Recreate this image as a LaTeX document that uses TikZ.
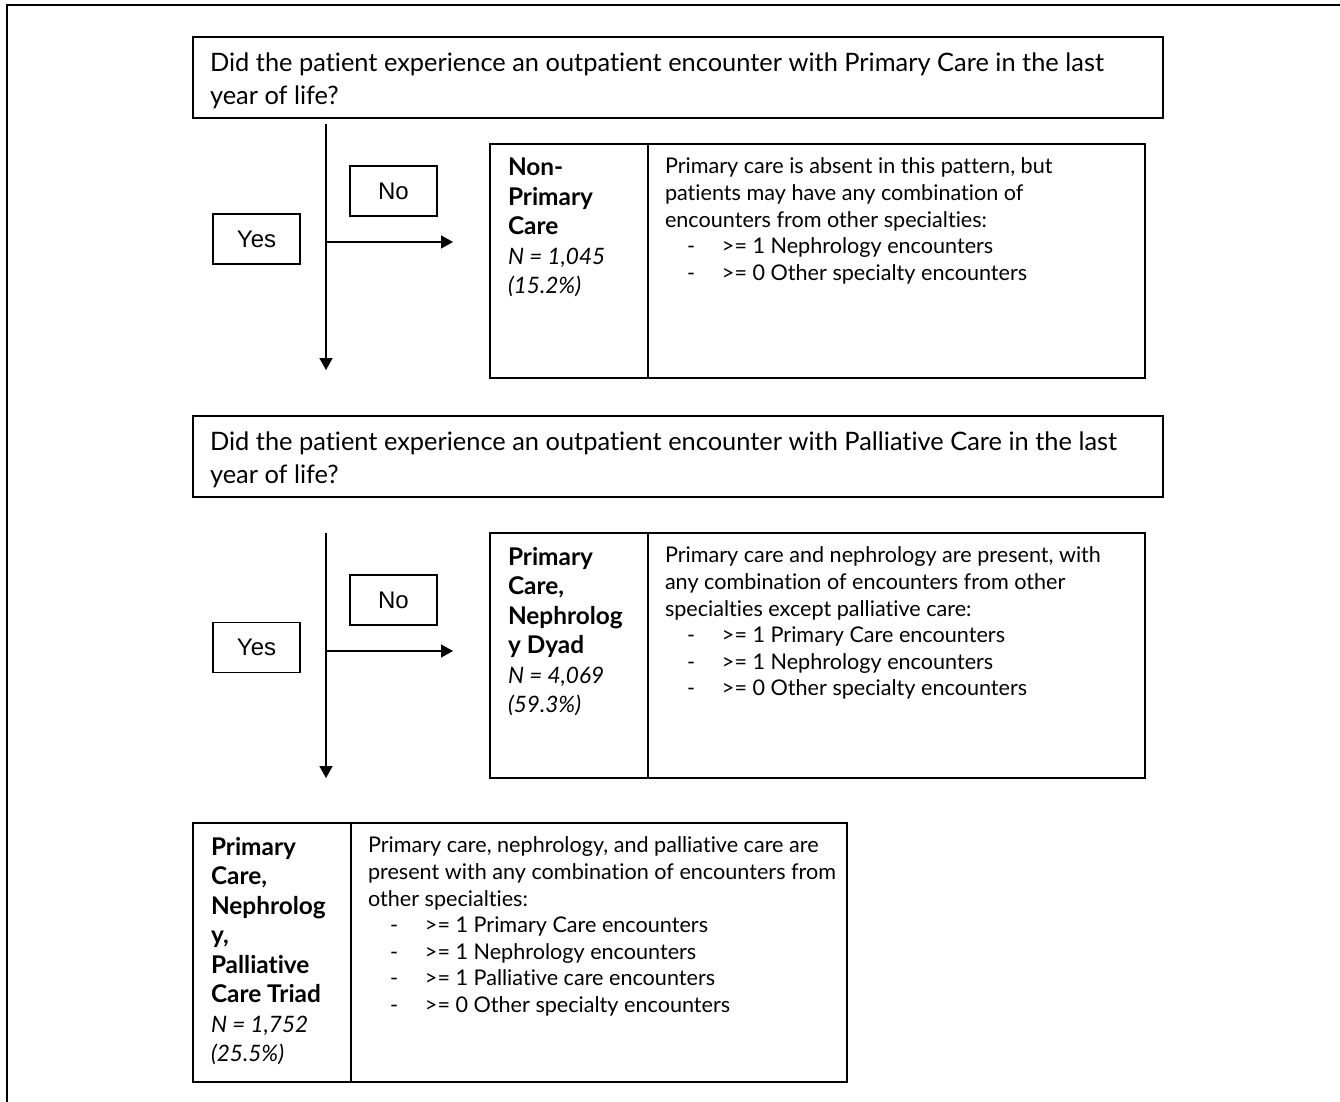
\documentclass[tikz,border=0pt]{standalone}
\usepackage{fontspec}
\setmainfont{Lato}[Ligatures=NoCommon]
\newfontfamily\arialfont{Liberation Sans}
\usetikzlibrary{positioning, arrows.meta}
\newcommand{\dashitem}[1]{\makebox[28.5pt][l]{\hspace{11pt}-}#1}

\begin{document}
\begin{tikzpicture}[x=0.5pt, y=-0.5pt]
    \tikzstyle{question} = [rectangle, draw, line width=0.9pt, outer sep=0pt, anchor=north west, inner xsep=8.5pt, inner ysep=8pt, font=\fontsize{12.7}{16.5}\selectfont]
    \tikzstyle{answer} = [rectangle, draw, line width=0.7pt, minimum width=43.5pt, minimum height=25pt, font=\arialfont\fontsize{12}{14}\selectfont]
    \tikzstyle{groupname} = [rectangle, draw, line width=0.9pt, outer sep=0pt, anchor=north west, inner xsep=9pt, inner ysep=7pt, font=\fontsize{11.3}{14.75}\selectfont]
    \tikzstyle{groupinfo} = [rectangle, draw, line width=0.9pt, outer sep=0pt, inner xsep=8.5pt, inner ysep=7pt, font=\fontsize{10.8}{13.3}\selectfont]
    \tikzstyle{arrow} = [line width=0.8pt, -{Triangle[length=6pt, width=6.5pt]}]

    \useasboundingbox (0,0) rectangle (1340,1102);
    \draw [line width=0.6pt] (7,1102) -- (7,5) -- (1340,5);

    % first question
    \node [question] (primq) at (193,37) {\parbox[c][24.5pt][t]{468pt}{\raggedright
        Did the patient experience an outpatient encounter with Primary Care in the last\\ year of life?}};
    \node [answer] (yes1) at (256.5,239) {Yes};
    \node [answer] (no1) at (393.5,191) {No};
    \coordinate (down1a) at (326,124);
    \coordinate (down1b) at (326,370);
    \coordinate (side1a) at (326,242);
    \coordinate (side1b) at (453,242);
    \draw [arrow] (down1a) -- (down1b);
    \draw [arrow] (side1a) -- (side1b);

    \node [groupname] (nonpc) at (490,144) {\parbox[c][103pt][t]{61pt}{\raggedright
        {\fontsize{12.2}{14.75}\selectfont\bfseries Non-\\ Primary\\ Care\\}\textit{N = 1,045}\\ \textit{(15.2\%)}}};
    \node [groupinfo, right=0pt of nonpc] (nonpcinfo) {\parbox[c][103pt][t]{231.5pt}{\raggedright
        Primary care is absent in this pattern, but\\
        patients may have any combination of\\
        encounters from other specialties:\\
        \dashitem{>= 1 Nephrology encounters}\\
        \dashitem{>= 0 Other specialty encounters}}};

    % second question
    \node [question] (palq) at (193,416) {\parbox[c][24.5pt][t]{468pt}{\raggedright
        Did the patient experience an outpatient encounter with Palliative Care in the last\\ year of life?}};
    \node [answer] (yes2) at (256.5,647.5) {Yes};
    \node [answer] (no2) at (393.5,600) {No};
    \coordinate (down2a) at (326,533);
    \coordinate (down2b) at (326,778);
    \coordinate (side2a) at (326,651);
    \coordinate (side2b) at (453,651);
    \draw [arrow] (down2a) -- (down2b);
    \draw [arrow] (side2a) -- (side2b);

    \node [groupname] (dyad) at (490,533) {\parbox[c][108.5pt][t]{61pt}{\raggedright
        {\fontsize{12.2}{14.75}\selectfont\bfseries Primary\\ Care,\\ Nephrolog\\ y Dyad\\}\textit{N = 4,069}\\ \textit{(59.3\%)}}};
    \node [groupinfo, right=0pt of dyad] (dyadinfo) {\parbox[c][108.5pt][t]{231.5pt}{\raggedright
        Primary care and nephrology are present, with\\
        any combination of encounters from other\\
        specialties except palliative care:\\
        \dashitem{>= 1 Primary Care encounters}\\
        \dashitem{>= 1 Nephrology encounters}\\
        \dashitem{>= 0 Other specialty encounters}}};

    % yes to both
    \node [groupname] (triad) at (193,823) {\parbox[c][115.5pt][t]{61pt}{\raggedright
        {\fontsize{12.2}{14.75}\selectfont\bfseries Primary\\ Care,\\ Nephrolog\\ y,\\ Palliative\\ Care Triad\\}\textit{N = 1,752}\\ \textit{(25.5\%)}}};
    \node [groupinfo, right=0pt of triad] (triadinfo) {\parbox[c][115.5pt][t]{231pt}{\raggedright
        Primary care, nephrology, and palliative care are\\
        \mbox{present with any combination of encounters from}\\
        other specialties:\\
        \dashitem{>= 1 Primary Care encounters}\\
        \dashitem{>= 1 Nephrology encounters}\\
        \dashitem{>= 1 Palliative care encounters}\\
        \dashitem{>= 0 Other specialty encounters}}};
\end{tikzpicture}
\end{document}
